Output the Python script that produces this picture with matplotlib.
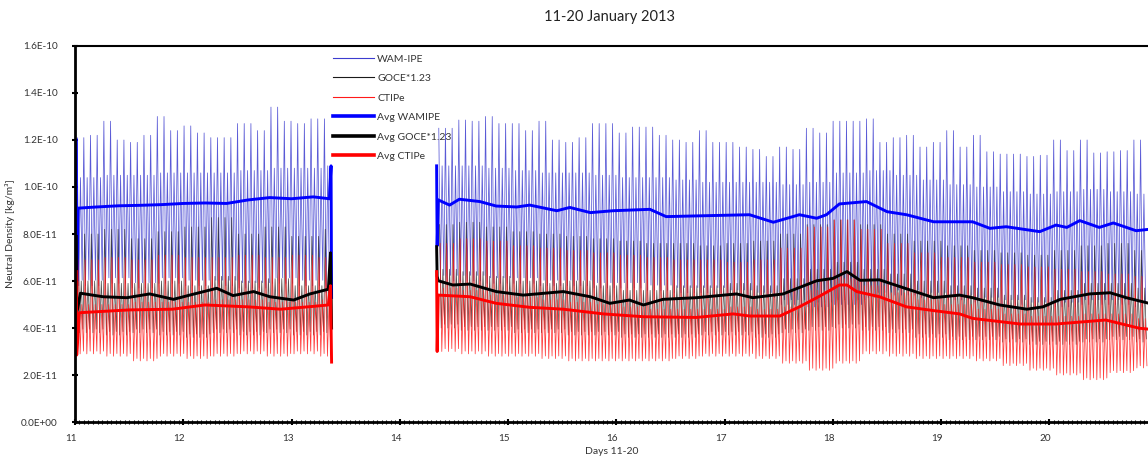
import matplotlib

matplotlib.use("Agg")
import matplotlib.pyplot as plt
from matplotlib.ticker import FixedLocator, MultipleLocator
from matplotlib.transforms import ScaledTranslation
import numpy as np

plt.rcParams["font.family"] = ["Lato", "DejaVu Sans"]

# density values are in units of 1e-11 kg/m^3
SCALE = 1e-11
ORBITS_PER_DAY = 16.2

# axis ticks
x_ticks = [11, 12, 13, 14, 15, 16, 17, 18, 19, 20]
y_ticks = [0.0, 2.0, 4.0, 6.0, 8.0, 10.0, 12.0, 14.0, 16.0]

# data segments (gap on day 13.4 - 14.3)
seg_a = (11.02, 13.37)
seg_b = (14.36, 20.95)

# orbit peak heights of WAM-IPE, every 1/8 day
blue_hi_days_a = np.arange(11.0, 13.26, 0.125)
blue_hi_a = [12.1, 12.2, 12.8, 12.0, 11.9, 12.2, 13.0, 12.4, 12.6, 12.3,
             12.1, 12.1, 12.7, 12.4, 13.4, 12.8, 12.7, 12.9, 12.9]
blue_hi_days_b = np.arange(14.375, 20.88, 0.125)
blue_hi_b = [12.5, 12.85, 12.8, 13.0, 12.7, 12.7, 12.4, 12.8, 12.0, 11.9,
             12.1, 12.7, 12.7, 12.3, 12.55, 12.55, 12.2, 12.0, 11.9,
             12.4, 11.9, 11.9, 11.7, 11.6, 11.3, 11.7, 11.6, 12.5, 12.3,
             12.8, 12.8, 12.9, 11.9, 12.1, 12.2, 11.7, 11.9, 12.4,
             11.7, 12.2, 11.5, 11.4, 11.4, 11.3, 11.35, 12.0, 11.55, 12.0,
             11.45, 11.5, 11.55, 12.0, 11.4]

# envelopes every 1/4 day
env_days_a = np.arange(11.0, 13.26, 0.25)
blue_lo_a = [5.8, 5.9, 5.7, 5.9, 5.8, 5.8, 5.7, 5.9, 5.8, 5.5]
blue_mid_a = [10.4, 10.5, 10.5, 10.6, 10.6, 10.6, 10.7, 10.8, 10.8, 10.9]
black_hi_a = [8.0, 8.2, 7.8, 8.1, 8.3, 8.7, 8.0, 8.3, 7.9, 8.2]
black_lo_a = [3.8, 3.7, 3.8, 3.7, 3.6, 3.8, 3.7, 3.8, 3.7, 3.8]
black_mid_a = [6.0, 5.9, 5.9, 6.0, 5.8, 6.2, 6.0, 6.1, 5.8, 6.0]
red_hi_a = [6.9, 7.0, 6.9, 7.1, 7.0, 7.0, 7.1, 7.0, 7.1, 7.0]
red_lo_a = [2.9, 2.8, 2.6, 2.8, 2.7, 2.8, 2.9, 2.8, 2.9, 2.8]
red_mid_a = [5.0, 5.0, 5.1, 5.1, 5.1, 5.2, 5.2, 5.1, 5.1, 5.2]

env_days_b = np.arange(14.25, 20.76, 0.25)
blue_lo_b = [6.0, 6.0, 5.9, 5.9, 5.8, 5.8, 5.7, 5.7, 5.6, 5.5, 5.5, 5.4, 5.3, 5.0,
             4.9, 5.0, 5.3, 5.4, 5.3, 5.2, 5.1, 5.0, 4.9, 4.9, 5.0, 5.0, 4.9]
blue_mid_b = [10.9, 10.9, 10.8, 10.7, 10.6, 10.6, 10.5, 10.4, 10.4, 10.3, 10.2, 10.2,
              10.2, 10.1, 10.2, 10.6, 10.7, 10.5, 10.3, 10.1, 10.0, 9.8, 9.7, 9.8,
              9.9, 9.8, 9.7]
black_hi_b = [8.4, 8.5, 8.3, 8.1, 8.0, 7.9, 7.8, 7.7, 7.6, 7.6, 7.5, 7.6, 7.7, 8.0,
              8.4, 8.6, 8.4, 8.0, 7.7, 7.5, 7.3, 7.2, 7.1, 7.3, 7.5, 7.6, 7.3]
black_lo_b = [4.0, 3.9, 3.9, 3.8, 3.8, 3.7, 3.7, 3.6, 3.6, 3.6, 3.7, 3.7, 3.6, 3.8,
              3.9, 4.0, 3.9, 3.8, 3.6, 3.5, 3.5, 3.4, 3.3, 3.3, 3.4, 3.5, 3.4]
black_mid_b = [6.5, 6.4, 6.2, 6.0, 5.9, 6.0, 5.8, 5.6, 5.6, 5.8, 5.8, 5.9, 5.8, 6.1,
               6.5, 6.8, 6.5, 6.3, 6.0, 5.8, 5.7, 5.4, 5.3, 5.6, 5.9, 5.9, 5.7]
red_hi_b = [7.6, 7.8, 7.7, 7.5, 7.4, 7.3, 7.2, 7.1, 7.0, 6.9, 6.9, 6.8, 6.9, 7.4,
            8.3, 8.6, 8.2, 7.6, 7.2, 7.0, 6.8, 6.7, 6.6, 6.5, 6.4, 6.3, 6.2]
red_lo_b = [3.0, 2.9, 2.8, 2.8, 2.7, 2.6, 2.6, 2.6, 2.6, 2.7, 2.8, 2.8, 2.7, 2.5,
            2.2, 2.5, 2.9, 2.8, 2.7, 2.7, 2.6, 2.4, 2.2, 2.0, 1.8, 2.1, 2.3]
red_mid_b = [5.7, 5.6, 5.4, 5.3, 5.2, 5.1, 5.0, 4.9, 4.8, 4.8, 4.8, 4.9, 4.8, 4.9,
             5.6, 6.1, 5.8, 5.5, 5.2, 5.0, 4.8, 4.6, 4.5, 4.5, 4.6, 4.6, 4.4]

# running averages
blue_avg_days_a = [11.012, 11.016, 11.03, 11.2, 11.4, 11.6, 11.8, 12.0, 12.2, 12.4,
                   12.6, 12.8, 13.0, 13.2, 13.35, 13.365, 13.37]
blue_avg_a = [12.0, 6.0, 9.1, 9.15, 9.2, 9.22, 9.25, 9.3, 9.32, 9.3,
              9.45, 9.55, 9.5, 9.58, 9.5, 10.9, 5.3]
black_avg_days_a = [11.012, 11.016, 11.05, 11.26, 11.48, 11.69, 11.91, 12.06, 12.31,
                    12.46, 12.65, 12.8, 13.02, 13.17, 13.34, 13.36, 13.37]
black_avg_a = [7.9, 4.6, 5.48, 5.33, 5.29, 5.45, 5.22, 5.4, 5.69,
               5.38, 5.55, 5.33, 5.19, 5.45, 5.65, 7.2, 4.0]
red_avg_days_a = [11.012, 11.016, 11.04, 11.5, 11.9, 12.2, 12.6, 12.9, 13.2, 13.34,
                  13.36, 13.37]
red_avg_a = [6.4, 2.85, 4.65, 4.77, 4.8, 4.98, 4.9, 4.8, 4.92, 4.98, 5.8, 2.55]

blue_avg_days_b = [14.34, 14.345, 14.355, 14.46, 14.55, 14.74, 14.89, 15.08, 15.2, 15.45,
                   15.57, 15.76, 15.97, 16.31, 16.46, 16.74, 17.23, 17.45, 17.69, 17.85,
                   17.94, 18.06, 18.31, 18.5, 18.68, 18.93, 19.17, 19.29, 19.45, 19.6,
                   19.91, 20.06, 20.16, 20.28, 20.46, 20.59, 20.8, 20.92]
blue_avg_b = [10.9, 7.5, 9.45, 9.23, 9.48, 9.38, 9.19, 9.15, 9.23, 8.99,
              9.13, 8.91, 8.99, 9.05, 8.74, 8.77, 8.82, 8.5, 8.82, 8.67,
              8.82, 9.28, 9.38, 8.95, 8.82, 8.52, 8.52, 8.52, 8.24, 8.31,
              8.1, 8.38, 8.28, 8.57, 8.28, 8.47, 8.14, 8.2]
black_avg_days_b = [14.34, 14.345, 14.355, 14.49, 14.65, 14.89, 15.14, 15.51, 15.76, 15.94,
                    16.12, 16.25, 16.43, 16.74, 17.11, 17.26, 17.54, 17.85, 18.0, 18.13,
                    18.25, 18.43, 18.62, 18.93, 19.17, 19.29, 19.54, 19.79, 19.94, 20.1,
                    20.37, 20.56, 20.71, 20.92]
black_avg_b = [7.46, 6.2, 6.01, 5.83, 5.87, 5.55, 5.4, 5.55, 5.33, 5.05,
               5.19, 4.98, 5.22, 5.29, 5.45, 5.29, 5.45, 6.01, 6.11, 6.4,
               6.03, 6.05, 5.76, 5.29, 5.4, 5.29, 4.98, 4.8, 4.9, 5.22,
               5.45, 5.5, 5.29, 5.05]
red_avg_days_b = [14.34, 14.345, 14.355, 14.65, 14.89, 15.2, 15.51, 15.88, 16.25, 16.74,
                  17.08, 17.23, 17.51, 17.69, 17.88, 18.06, 18.13, 18.22, 18.43, 18.68,
                  18.93, 19.17, 19.29, 19.73, 20.06, 20.52, 20.83, 20.92]
red_avg_b = [6.4, 3.0, 5.4, 5.33, 5.05, 4.88, 4.8, 4.6, 4.48, 4.45,
             4.6, 4.51, 4.51, 4.9, 5.36, 5.83, 5.83, 5.55, 5.33, 4.9,
             4.74, 4.6, 4.41, 4.17, 4.17, 4.34, 3.99, 3.95]

COLORS = {"blue_raw": "#3c3ccf", "black_raw": "#1a1a1a", "red_raw": "#ff1a1a",
          "blue": "#0000ff", "black": "#000000", "red": "#ff0000"}


def _hold(days, values, t):
    # value of the envelope sample that covers time t
    step = days[1] - days[0]
    idx = int((t - days[0]) / step)
    return values[min(max(idx, 0), len(values) - 1)]


def orbit_trace(seg, hi_days, hi, env_days, lo, mid, phase):
    period = 1.0 / ORBITS_PER_DAY
    n = int((seg[1] - seg[0]) / period)
    xs, ys = [], []
    for k in range(n):
        t = seg[0] + (k + phase) * period
        h = _hold(hi_days, hi, t)
        low = _hold(env_days, lo, t)
        m = _hold(env_days, mid, t)
        xs += [t, t + 0.25 * period, t + 0.5 * period, t + 0.75 * period]
        ys += [h, low, m, low * 1.04]
    return np.array(xs), np.array(ys) * SCALE


fig = plt.figure(figsize=(11.48, 4.66), dpi=100)
ax = fig.add_axes([0.0653, 0.0944, 0.9347, 0.8069])

raw_specs = [
    ("WAM-IPE", "blue_raw", (blue_hi_days_a, blue_hi_a, env_days_a, blue_lo_a, blue_mid_a),
     (blue_hi_days_b, blue_hi_b, env_days_b, blue_lo_b, blue_mid_b), 0.0, 0.85),
    ("GOCE*1.23", "black_raw", (env_days_a, black_hi_a, env_days_a, black_lo_a, black_mid_a),
     (env_days_b, black_hi_b, env_days_b, black_lo_b, black_mid_b), 0.12, 0.75),
    ("CTIPe", "red_raw", (env_days_a, red_hi_a, env_days_a, red_lo_a, red_mid_a),
     (env_days_b, red_hi_b, env_days_b, red_lo_b, red_mid_b), 0.2, 0.85),
]
handles = []
for label, ckey, part_a, part_b, phase, alpha in raw_specs:
    for i, (seg, part) in enumerate([(seg_a, part_a), (seg_b, part_b)]):
        x, y = orbit_trace(seg, *part, phase)
        line, = ax.plot(x, y, color=COLORS[ckey], linewidth=0.55, alpha=alpha)
        if i == 0:
            handles.append((line, label))

avg_specs = [
    ("Avg WAMIPE", "blue", blue_avg_days_a, blue_avg_a, blue_avg_days_b, blue_avg_b),
    ("Avg GOCE*1.23", "black", black_avg_days_a, black_avg_a, black_avg_days_b, black_avg_b),
    ("Avg CTIPe", "red", red_avg_days_a, red_avg_a, red_avg_days_b, red_avg_b),
]
for label, ckey, da, va, db, vb in avg_specs:
    line, = ax.plot(da, np.array(va) * SCALE, color=COLORS[ckey], linewidth=2.1)
    ax.plot(db, np.array(vb) * SCALE, color=COLORS[ckey], linewidth=2.1)
    handles.append((line, label))

leg = ax.legend([h for h, _ in handles], [lab for _, lab in handles],
                loc="upper left", bbox_to_anchor=(0.232, 1.003), frameon=False,
                fontsize=7.5, handlelength=3.9, handletextpad=0.3, labelspacing=0.98)
for lh in leg.get_lines()[:3]:
    lh.set_linewidth(0.8)
    lh.set_alpha(1.0)
for lh in leg.get_lines()[3:]:
    lh.set_linewidth(2.6)
for txt in leg.get_texts():
    txt.set_color("#333333")

ax.set_xlim(11, 20.91)
ax.set_ylim(0, 1.6e-10)
ax.xaxis.set_major_locator(FixedLocator(x_ticks))
ax.xaxis.set_minor_locator(MultipleLocator(1 / 24))
ax.yaxis.set_major_locator(FixedLocator([v * SCALE for v in y_ticks]))
ax.set_yticklabels([f"{v * SCALE:.1E}" for v in y_ticks])
ax.set_xticklabels([str(d) for d in x_ticks])

ax.tick_params(axis="both", which="major", direction="inout", length=5, width=1.5,
               labelsize=7.2, colors="black", labelcolor="#333333")
ax.tick_params(axis="x", which="minor", direction="inout", length=3, width=0.8)
ax.tick_params(axis="x", which="major", pad=6)
ax.tick_params(axis="y", which="major", pad=10)
for lab in ax.get_xticklabels():
    lab.set_transform(lab.get_transform() + ScaledTranslation(-4 / 100, 0, fig.dpi_scale_trans))

for side in ["left", "bottom"]:
    ax.spines[side].set_linewidth(2.0)
ax.spines["top"].set_linewidth(1.5)
ax.spines["right"].set_visible(False)

ax.set_ylabel("Neutral Density [kg/m³]", fontsize=7.5, color="#333333", labelpad=4)
ax.set_xlabel("Days 11-20", fontsize=7.5, color="#333333", labelpad=3)
fig.text(0.531, 0.963, "11-20 January 2013", ha="center", va="center",
         fontsize=10.5, color="#222222")

fig.savefig("out.png", dpi=100)
plt.close(fig)
